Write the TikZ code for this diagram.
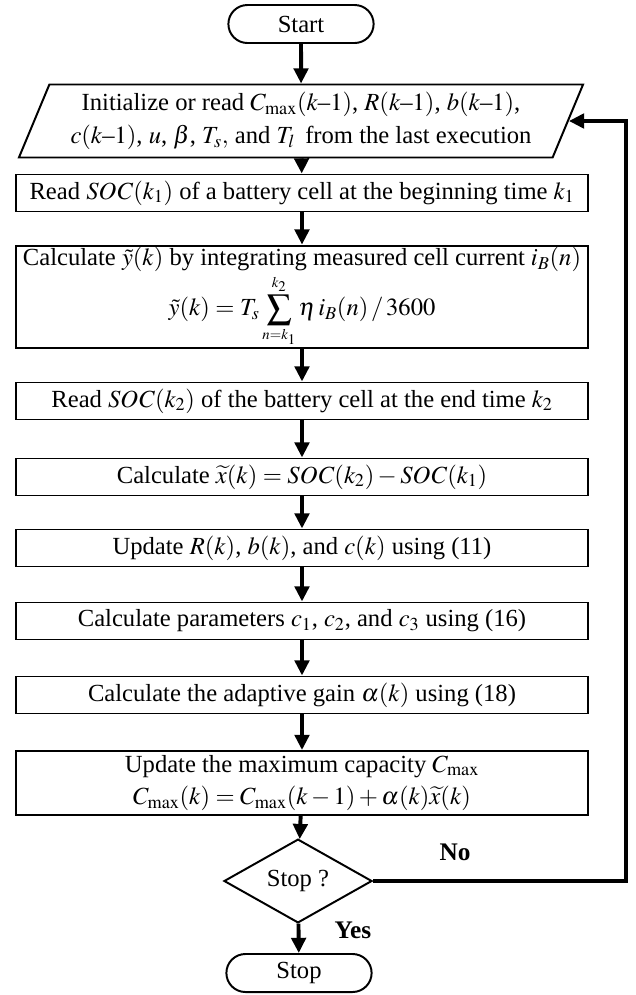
\documentclass[tikz,border=0pt]{standalone}
\usepackage{amsmath}
\usepackage{mathptmx}
\usepackage{fontspec}
\setmainfont{Liberation Serif}
\usetikzlibrary{positioning,shapes.geometric,shapes.misc,arrows.meta}

\begin{document}
\begin{tikzpicture}[x=0.025cm, y=-0.025cm,
    every node/.style={font=\fontsize{17.5}{23}\selectfont},
    box/.style={draw, line width=1.4pt, minimum width=14.3cm,
      minimum height=0.925cm, inner sep=1pt, align=center},
    term/.style={draw, rounded rectangle, line width=1.4pt,
      minimum width=3.7cm, minimum height=0.95cm, inner sep=1pt},
    io/.style={draw, trapezium, trapezium left angle=63,
      trapezium right angle=117, trapezium stretches body,
      line width=1.4pt, minimum width=14.1cm, minimum height=1.825cm,
      inner sep=1pt, align=center},
    cond/.style={draw, diamond, line width=1.4pt, minimum width=3.7cm,
      minimum height=1.95cm, inner sep=0pt},
    flow/.style={line width=2.8pt, -{Triangle[length=0.38cm, width=0.36cm]}},
    lbl/.style={font=\fontsize{18}{20}\selectfont\bfseries}]
    \useasboundingbox (0,0) rectangle (636,995);

    % terminals and steps
    \node[term] (start) at (301,24) {Start};
    \node[io] (init) at (301,121)
      {Initialize or read $C_{\max}(k\text{--}1)$, $R(k\text{--}1)$, $b(k\text{--}1)$,\\
       $c(k\text{--}1)$, $u$, $\beta$, $T_{s},$ and $T_{l}$\, from the last execution};
    \node[box] (socA) at (302,193) {Read $\mathit{SOC}(k_1)$ of a battery cell at the beginning time $k_1$};
    \node[box, minimum height=2.375cm] (ytil) at (302,297)
      {Calculate $\tilde{y}(k)$ by integrating measured cell current $i_B(n)$\\[1pt]
       $\displaystyle\tilde{y}(k)=T_s\sum_{\scriptscriptstyle n=k_1}^{\scriptscriptstyle k_2}\eta\, i_B(n)\,/\,3600$};
    \node[box] (socB) at (302,401) {Read $\mathit{SOC}(k_2)$ of the battery cell at the end time $k_2$};
    \node[box] (xtil) at (302,477) {Calculate $\widetilde{x}(k)=\mathit{SOC}(k_2)-\mathit{SOC}(k_1)$};
    \node[box] (upd) at (302,548) {Update $R(k)$, $b(k)$, and $c(k)$ using (11)};
    \node[box] (par) at (302,621) {Calculate parameters $c_1$, $c_2$, and $c_3$ using (16)};
    \node[box] (gain) at (302,695) {Calculate the adaptive gain $\alpha(k)$ using (18)};
    \node[box, minimum height=1.6cm] (cap) at (302,783)
      {Update the maximum capacity $C_{\max}$\\
       $C_{\max}(k)=C_{\max}(k-1)+\alpha(k)\widetilde{x}(k)$};
    \node[cond] (stopq) at (298,881) {Stop ?};
    \node[term] (stop) at (299,973) {Stop};

    % arrows
    \draw[flow] (start) -- (init);
    \draw[flow] (init) -- (socA);
    \draw[flow] (socA) -- (ytil);
    \draw[flow] (ytil) -- (socB);
    \draw[flow] (socB) -- (xtil);
    \draw[flow] (xtil) -- (upd);
    \draw[flow] (upd) -- (par);
    \draw[flow] (par) -- (gain);
    \draw[flow] (gain) -- (cap);
    \draw[flow] (cap) -- (stopq);
    \draw[flow] (stopq) -- (stop);
    \coordinate (loop) at (626,881);
    \draw[flow] (stopq.east) -- (loop) |- (init.east);

    % labels
    \node[lbl] (no) at (455,852) {No};
    \node[lbl] (yes) at (353,930) {Yes};
\end{tikzpicture}
\end{document}
